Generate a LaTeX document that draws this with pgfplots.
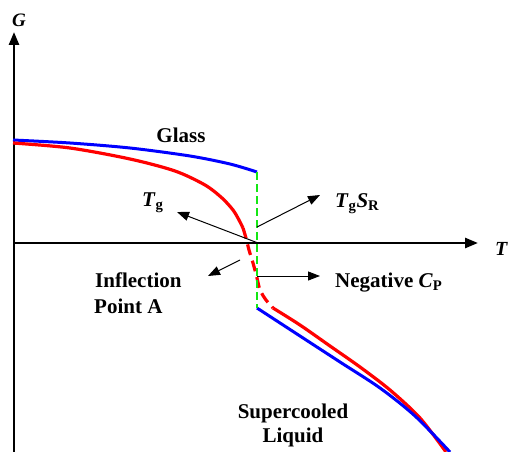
\documentclass[border=0pt]{standalone}
\usepackage{pgfplots}
\pgfplotsset{compat=1.18}
\usepackage{fontspec}
\setmainfont{Liberation Serif}[BoldFont={Liberation Serif Bold},ItalicFont={Liberation Serif Italic},BoldItalicFont={Liberation Serif Bold Italic}]
\usetikzlibrary{arrows.meta}
\definecolor{myblue}{RGB}{0,0,255}
\definecolor{myred}{RGB}{255,0,0}
\definecolor{mygreen}{RGB}{20,230,20}
\tikzset{lbl/.style={font=\fontsize{21bp}{25bp}\selectfont\bfseries, inner sep=0pt}}
\begin{document}
\begin{tikzpicture}
\begin{axis}[width=511bp,height=452bp,scale only axis,hide axis,clip=false,
  xmin=0,xmax=511,ymin=0,ymax=452,y dir=reverse]
% axes
\addplot[black,line width=2.5bp,no markers,-{Triangle[length=13bp,width=10bp]}] coordinates {(14,452) (14,32)};
\addplot[black,line width=2.5bp,no markers,-{Triangle[length=13bp,width=10bp]}] coordinates {(13,243) (478,243)};
% glass
\addplot[myblue,line width=3bp,no markers,smooth] coordinates {(13,140) (70,143) (130,148) (190,156) (230,164) (257,172)};
\addplot[myred,line width=3.2bp,no markers,smooth] coordinates {(13,143) (70,148) (130,159) (175,171) (205,185) (222,198) (233,210) (239,220) (243,228)};
\addplot[myred,line width=3.2bp,no markers,smooth,dash pattern=on 11bp off 6bp] coordinates {(243,228) (246,238) (249,250) (253,263) (257,278) (260,290) (266,300) (273,308)};
\addplot[myred,line width=3.2bp,no markers,smooth] coordinates {(273,308) (300,325) (330,346) (360,367) (390,390) (420,418) (446,452)};
% liquid
\addplot[myblue,line width=3bp,no markers,smooth] coordinates {(257,308) (300,336) (340,362) (380,388) (415,416) (450,452)};
% green
\addplot[mygreen,line width=1.5bp,no markers,dash pattern=on 8bp off 4bp] coordinates {(257,172) (257,308)};
% annotation arrows
\addplot[black,line width=1bp,no markers,-{Triangle[length=12bp,width=9bp]}] coordinates {(258,243) (177,212)};
\addplot[black,line width=1bp,no markers,-{Triangle[length=12bp,width=9bp]}] coordinates {(257,227) (320,195)};
\addplot[black,line width=1bp,no markers,-{Triangle[length=12bp,width=9bp]}] coordinates {(240,260) (208,276)};
\addplot[black,line width=1bp,no markers,-{Triangle[length=12bp,width=9bp]}] coordinates {(257,276) (320,276)};
% labels
\node[lbl,anchor=base west,font=\fontsize{19bp}{22bp}\selectfont\bfseries\itshape] at (axis cs:12,27) {G};
\node[lbl,anchor=base west,font=\fontsize{20bp}{24bp}\selectfont\bfseries\itshape] at (axis cs:495,255) {T};
\node[lbl,anchor=base] at (axis cs:181,142) {Glass};
\node[lbl,anchor=base west] at (axis cs:142,206) {\textit{T}\textsubscript{g}};
\node[lbl,anchor=base west] at (axis cs:335,207) {\textit{T}\textsubscript{g}\textit{S}\textsubscript{R}};
\node[lbl,anchor=base west] at (axis cs:335,287) {Negative \textit{C}\textsubscript{P}};
\node[lbl,anchor=base west] at (axis cs:95,287) {Inflection};
\node[lbl,anchor=base west] at (axis cs:94,313) {Point A};
\node[lbl,anchor=base] at (axis cs:293,418) {Supercooled};
\node[lbl,anchor=base] at (axis cs:293,442) {Liquid};
\end{axis}
\pgfresetboundingbox
\path (current axis.south west) rectangle (current axis.north east);
\end{tikzpicture}
\end{document}
